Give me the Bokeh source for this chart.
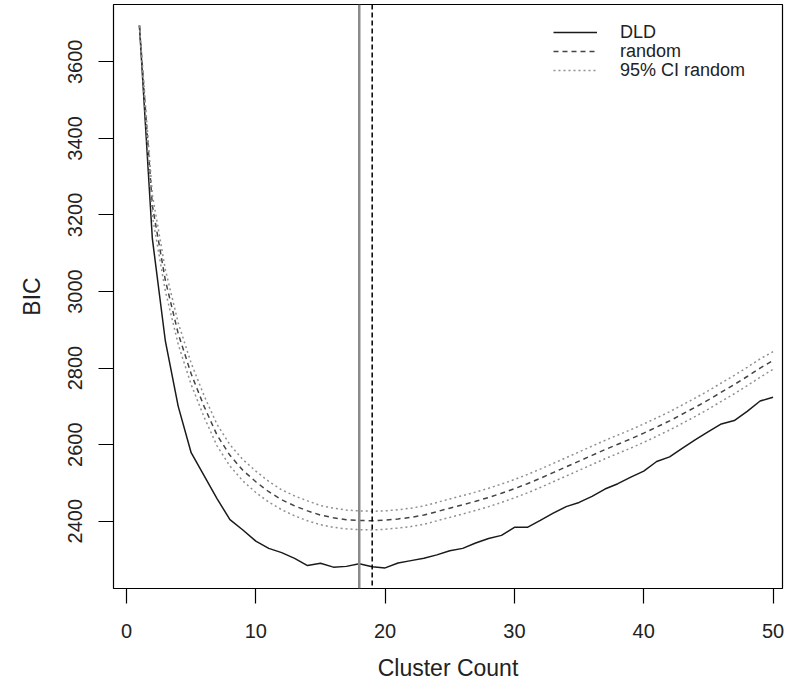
from bokeh.plotting import figure
from bokeh.models import ColumnDataSource, Span, Legend, LegendItem, FixedTicker, Range1d
from bokeh.embed import file_html
from bokeh.resources import INLINE

# ---- data ----
cluster_count = list(range(1, 51))
dld = [3695, 3138, 2872, 2700, 2579, 2519, 2459, 2404, 2377, 2348,
       2329, 2318, 2303, 2284, 2290, 2280, 2282, 2289, 2281, 2278,
       2291, 2297, 2303, 2312, 2323, 2329, 2343, 2355, 2363, 2384,
       2384, 2402, 2421, 2438, 2449, 2465, 2484, 2498, 2515, 2531,
       2556, 2568, 2591, 2613, 2634, 2654, 2663, 2687, 2714, 2724]
random_mean = [3695, 3225, 3030, 2890, 2785, 2700, 2625, 2572, 2533, 2503,
               2477, 2456, 2440, 2427, 2416, 2409, 2404, 2402, 2401, 2403,
               2406, 2410, 2416, 2425, 2434, 2443, 2452, 2462, 2473, 2485,
               2498, 2512, 2527, 2542, 2557, 2572, 2587, 2601, 2615, 2630,
               2646, 2662, 2680, 2698, 2717, 2737, 2757, 2778, 2800, 2820]
ci_upper = [3695, 3253, 3058, 2918, 2813, 2728, 2653, 2600, 2561, 2531,
            2504, 2482, 2466, 2453, 2441, 2434, 2429, 2427, 2426, 2427,
            2430, 2434, 2440, 2449, 2458, 2467, 2476, 2486, 2497, 2509,
            2522, 2536, 2551, 2566, 2581, 2596, 2611, 2625, 2639, 2654,
            2670, 2686, 2704, 2722, 2741, 2761, 2781, 2802, 2824, 2843]
ci_lower = [3695, 3197, 3002, 2862, 2757, 2672, 2597, 2544, 2505, 2475,
            2450, 2430, 2414, 2401, 2391, 2384, 2380, 2378, 2377, 2379,
            2382, 2386, 2392, 2401, 2410, 2419, 2428, 2438, 2449, 2461,
            2474, 2488, 2503, 2518, 2533, 2548, 2563, 2577, 2591, 2606,
            2622, 2638, 2656, 2674, 2693, 2713, 2733, 2754, 2776, 2797]
best_dld = 18
best_random = 19
x_ticks = [0, 10, 20, 30, 40, 50]
y_ticks = [2400, 2600, 2800, 3000, 3200, 3400, 3600]
legend_labels = ["DLD", "random", "95% CI random"]

FONT = "Liberation Sans"

src = ColumnDataSource(dict(k=cluster_count, dld=dld, rnd=random_mean,
                            up=ci_upper, lo=ci_lower))

p = figure(width=784, height=683, output_backend="svg", toolbar_location=None,
           x_range=Range1d(-1.005, 50.73), y_range=Range1d(2224.2, 3749.8),
           min_border_left=113, min_border_right=2, min_border_top=4,
           min_border_bottom=95)
p.grid.visible = False
p.outline_line_color = "black"
p.outline_line_width = 1.2
p.background_fill_color = "white"
p.border_fill_color = "white"

for ax in (p.xaxis[0], p.yaxis[0]):
    ax.axis_line_color = None
    ax.minor_tick_line_color = None
    ax.major_tick_in = 0
    ax.major_tick_out = 15
    ax.major_tick_line_color = "black"
    ax.major_tick_line_width = 1.2
    ax.major_label_text_font = FONT
    ax.major_label_text_font_size = "20px"
    ax.major_label_text_color = "#222222"
    ax.axis_label_text_font = FONT
    ax.axis_label_text_font_size = "23px"
    ax.axis_label_text_font_style = "normal"
    ax.axis_label_text_color = "#222222"

p.xaxis.ticker = FixedTicker(ticks=x_ticks)
p.yaxis.ticker = FixedTicker(ticks=y_ticks)
p.xaxis.axis_label = "Cluster Count"
p.yaxis.axis_label = "BIC"
p.xaxis.major_label_standoff = 20
p.xaxis.axis_label_standoff = 14
p.yaxis.major_label_orientation = "parallel"
p.yaxis.major_label_standoff = 16
p.yaxis.axis_label_standoff = 21

r_dld = p.line("k", "dld", source=src, line_color="#1a1a1a", line_width=1.5)
r_rnd = p.line("k", "rnd", source=src, line_color="#444444", line_width=1.5,
               line_dash="5 4")
r_up = p.line("k", "up", source=src, line_color="#909090", line_width=1.5,
              line_dash="2 3")
r_lo = p.line("k", "lo", source=src, line_color="#909090", line_width=1.5,
              line_dash="2 3")

p.add_layout(Span(location=best_dld, dimension="height", line_color="#8a8a8a",
                  line_width=2.5))
p.add_layout(Span(location=best_random, dimension="height", line_color="black",
                  line_width=1.5, line_dash="5 3"))

# one legend per row so the row spacing can follow the reference
for label, rend, ybot in zip(legend_labels, [r_dld, r_rnd, r_up], [541, 522, 503]):
    lg = Legend(items=[LegendItem(label=label, renderers=[rend])],
                location=(440, ybot), orientation="vertical",
                border_line_color=None, background_fill_alpha=0,
                padding=0, margin=0, spacing=0,
                glyph_width=44, glyph_height=30, label_height=30,
                label_standoff=23,
                label_text_font=FONT, label_text_font_size="18px",
                label_text_color="#222222")
    p.add_layout(lg)

open("out.html", "w").write(file_html(p, INLINE))
